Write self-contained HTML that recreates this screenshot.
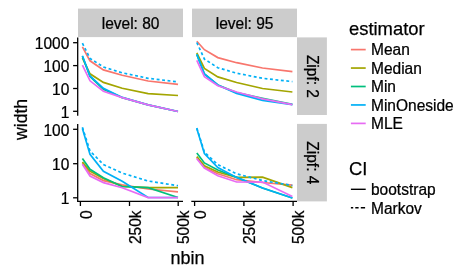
<!DOCTYPE html>
<html><head><meta charset="utf-8"><title>plot</title>
<style>
html,body{margin:0;padding:0;background:#fff;}
svg{display:block;}
text{font-family:"Liberation Sans",sans-serif;fill:#000;stroke:#000;stroke-width:0.25px;}
.t{font-size:15.6px;}
.T{font-size:18.4px;}
</style></head><body>
<svg width="471" height="277" viewBox="0 0 471 277">
<rect width="471" height="277" fill="#fff"/>
<rect x="78" y="8.6" width="105" height="28.5" fill="#CCCCCC"/>
<text class="t" transform="translate(130.60,29.10) scale(0.9936,1)" text-anchor="middle">level: 80</text>
<rect x="192" y="8.6" width="105" height="28.5" fill="#CCCCCC"/>
<text class="t" transform="translate(244.60,29.10) scale(0.9936,1)" text-anchor="middle">level: 95</text>
<rect x="297" y="37.4" width="29.9" height="77.6" fill="#CCCCCC"/>
<text class="t" transform="translate(306.60,76.40) rotate(90) scale(0.9936,1)" text-anchor="middle">Zipf: 2</text>
<rect x="297" y="123.9" width="29.9" height="77.5" fill="#CCCCCC"/>
<text class="t" transform="translate(306.60,162.85) rotate(90) scale(0.9936,1)" text-anchor="middle">Zipf: 4</text>
<polyline fill="none" stroke="#F8766D" stroke-width="1.7" points="82.4,46.8 90.0,60.8 103.4,69.9 122.2,75.3 148.1,81.0 178.0,84.4"/>
<polyline fill="none" stroke="#A3A500" stroke-width="1.7" points="82.4,57.9 90.0,73.8 103.4,82.4 122.2,88.3 148.1,93.6 178.0,95.5"/>
<polyline fill="none" stroke="#00BF7D" stroke-width="1.7" points="82.4,56.2 90.0,76.5 103.4,89.3 122.2,97.6 148.1,104.9 178.0,111.5"/>
<polyline fill="none" stroke="#00B0F6" stroke-width="1.7" points="82.4,55.8 90.0,76.0 103.4,88.3 122.2,97.4 148.1,104.9 178.0,111.5"/>
<polyline fill="none" stroke="#00B0F6" stroke-width="1.7" points="82.4,43.2 90.0,58.4 103.4,67.0 122.2,72.8 148.1,78.3 178.0,81.9" stroke-dasharray="2.9,2.58"/>
<polyline fill="none" stroke="#E76BF3" stroke-width="1.7" points="82.4,65.2 90.0,80.8 103.4,91.2 122.2,97.6 148.1,104.9 178.0,111.5"/>
<polyline fill="none" stroke="#F8766D" stroke-width="1.7" points="196.8,41.3 204.4,49.7 217.8,57.6 236.6,62.7 262.5,68.0 292.4,71.6"/>
<polyline fill="none" stroke="#A3A500" stroke-width="1.7" points="196.8,52.8 204.4,68.4 217.8,76.9 236.6,82.5 262.5,88.5 292.4,92.0"/>
<polyline fill="none" stroke="#00BF7D" stroke-width="1.7" points="196.8,54.4 204.4,74.0 217.8,85.0 236.6,92.6 262.5,98.3 292.4,104.4"/>
<polyline fill="none" stroke="#00B0F6" stroke-width="1.7" points="196.8,54.4 204.4,74.0 217.8,84.9 236.6,93.4 262.5,100.4 292.4,104.7"/>
<polyline fill="none" stroke="#00B0F6" stroke-width="1.7" points="196.8,42.5 204.4,59.1 217.8,67.7 236.6,73.2 262.5,78.3 292.4,81.6" stroke-dasharray="2.9,2.58"/>
<polyline fill="none" stroke="#E76BF3" stroke-width="1.7" points="196.8,60.4 204.4,76.7 217.8,85.8 236.6,92.0 262.5,98.9 292.4,104.7"/>
<polyline fill="none" stroke="#F8766D" stroke-width="1.7" points="82.4,163.3 90.0,173.5 103.4,180.6 122.2,184.9 148.1,189.0 178.0,191.9"/>
<polyline fill="none" stroke="#A3A500" stroke-width="1.7" points="82.4,162.0 90.0,171.2 103.4,178.5 122.2,186.3 148.1,187.7 178.0,187.7"/>
<polyline fill="none" stroke="#00BF7D" stroke-width="1.7" points="82.4,158.4 90.0,169.3 103.4,177.8 122.2,186.5 148.1,187.6 178.0,197.5"/>
<polyline fill="none" stroke="#00B0F6" stroke-width="1.7" points="82.4,128.5 90.0,154.4 103.4,171.3 122.2,181.3 148.1,197.5 178.0,197.5"/>
<polyline fill="none" stroke="#00B0F6" stroke-width="1.7" points="82.4,127.3 90.0,150.9 103.4,164.5 122.2,173.1 148.1,181.0 178.0,185.7" stroke-dasharray="2.9,2.58"/>
<polyline fill="none" stroke="#E76BF3" stroke-width="1.7" points="82.4,164.2 90.0,176.0 103.4,182.6 122.2,187.7 148.1,197.6 178.0,197.6"/>
<polyline fill="none" stroke="#F8766D" stroke-width="1.7" points="196.8,157.5 204.4,167.6 217.8,173.7 236.6,179.7 262.5,182.5 292.4,185.1"/>
<polyline fill="none" stroke="#A3A500" stroke-width="1.7" points="196.8,156.6 204.4,165.8 217.8,172.0 236.6,177.4 262.5,177.2 292.4,187.6"/>
<polyline fill="none" stroke="#00BF7D" stroke-width="1.7" points="196.8,153.0 204.4,162.9 217.8,170.0 236.6,177.2 262.5,188.0 292.4,198.0"/>
<polyline fill="none" stroke="#00B0F6" stroke-width="1.7" points="196.8,128.5 204.4,153.5 217.8,167.5 236.6,177.4 262.5,188.0 292.4,198.0"/>
<polyline fill="none" stroke="#00B0F6" stroke-width="1.7" points="196.8,128.0 204.4,152.0 217.8,164.6 236.6,173.8 262.5,180.6 292.4,185.5" stroke-dasharray="2.9,2.58"/>
<polyline fill="none" stroke="#E76BF3" stroke-width="1.7" points="196.8,158.6 204.4,168.0 217.8,175.8 236.6,182.0 262.5,182.1 292.4,196.5"/>
<line x1="77.7" x2="77.7" y1="37.4" y2="115.65" stroke="#000" stroke-width="1.3"/>
<line x1="73.1" x2="77.7" y1="42.7" y2="42.7" stroke="#000" stroke-width="1.3"/>
<text class="t" transform="translate(69.30,49.10) scale(0.9936,1)" text-anchor="end">1000</text>
<line x1="73.1" x2="77.7" y1="65.6" y2="65.6" stroke="#000" stroke-width="1.3"/>
<text class="t" transform="translate(69.30,72.00) scale(0.9936,1)" text-anchor="end">100</text>
<line x1="73.1" x2="77.7" y1="88.5" y2="88.5" stroke="#000" stroke-width="1.3"/>
<text class="t" transform="translate(69.30,94.90) scale(0.9936,1)" text-anchor="end">10</text>
<line x1="73.1" x2="77.7" y1="111.3" y2="111.3" stroke="#000" stroke-width="1.3"/>
<text class="t" transform="translate(69.30,117.70) scale(0.9936,1)" text-anchor="end">1</text>
<line x1="77.7" x2="77.7" y1="123.9" y2="202.05" stroke="#000" stroke-width="1.3"/>
<line x1="73.1" x2="77.7" y1="129.3" y2="129.3" stroke="#000" stroke-width="1.3"/>
<text class="t" transform="translate(69.30,135.70) scale(0.9936,1)" text-anchor="end">100</text>
<line x1="73.1" x2="77.7" y1="163.7" y2="163.7" stroke="#000" stroke-width="1.3"/>
<text class="t" transform="translate(69.30,170.10) scale(0.9936,1)" text-anchor="end">10</text>
<line x1="73.1" x2="77.7" y1="197.8" y2="197.8" stroke="#000" stroke-width="1.3"/>
<text class="t" transform="translate(69.30,204.20) scale(0.9936,1)" text-anchor="end">1</text>
<line x1="78" x2="183" y1="201.4" y2="201.4" stroke="#000" stroke-width="1.3"/>
<line x1="80.4" x2="80.4" y1="201.4" y2="206" stroke="#000" stroke-width="1.3"/>
<text class="t" transform="translate(91.60,210.40) rotate(-90) scale(0.9936,1)" text-anchor="end">0</text>
<line x1="129.5" x2="129.5" y1="201.4" y2="206" stroke="#000" stroke-width="1.3"/>
<text class="t" transform="translate(140.70,210.40) rotate(-90) scale(0.9936,1)" text-anchor="end">250k</text>
<line x1="178.2" x2="178.2" y1="201.4" y2="206" stroke="#000" stroke-width="1.3"/>
<text class="t" transform="translate(189.40,210.40) rotate(-90) scale(0.9936,1)" text-anchor="end">500k</text>
<line x1="191.3" x2="297" y1="201.4" y2="201.4" stroke="#000" stroke-width="1.3"/>
<line x1="194.6" x2="194.6" y1="201.4" y2="206" stroke="#000" stroke-width="1.3"/>
<text class="t" transform="translate(205.80,210.40) rotate(-90) scale(0.9936,1)" text-anchor="end">0</text>
<line x1="243.9" x2="243.9" y1="201.4" y2="206" stroke="#000" stroke-width="1.3"/>
<text class="t" transform="translate(255.10,210.40) rotate(-90) scale(0.9936,1)" text-anchor="end">250k</text>
<line x1="293.1" x2="293.1" y1="201.4" y2="206" stroke="#000" stroke-width="1.3"/>
<text class="t" transform="translate(304.30,210.40) rotate(-90) scale(0.9936,1)" text-anchor="end">500k</text>
<text class="T" style="font-size:17.6px" transform="translate(27.4,119.4) rotate(-90)" text-anchor="middle">width</text>
<text class="T" style="font-size:18px" x="187.5" y="264.1" text-anchor="middle">nbin</text>
<text class="T" x="349" y="35">estimator</text>
<line x1="350.9" x2="365.7" y1="49.60" y2="49.60" stroke="#F8766D" stroke-width="1.7"/>
<text class="t" transform="translate(371.00,55.40) scale(0.9936,1)" text-anchor="start">Mean</text>
<line x1="350.9" x2="365.7" y1="68.05" y2="68.05" stroke="#A3A500" stroke-width="1.7"/>
<text class="t" transform="translate(371.00,73.80) scale(0.9936,1)" text-anchor="start">Median</text>
<line x1="350.9" x2="365.7" y1="86.50" y2="86.50" stroke="#00BF7D" stroke-width="1.7"/>
<text class="t" transform="translate(371.00,92.20) scale(0.9936,1)" text-anchor="start">Min</text>
<line x1="350.9" x2="365.7" y1="104.95" y2="104.95" stroke="#00B0F6" stroke-width="1.7"/>
<text class="t" transform="translate(371.00,110.60) scale(0.9936,1)" text-anchor="start">MinOneside</text>
<line x1="350.9" x2="365.7" y1="123.40" y2="123.40" stroke="#E76BF3" stroke-width="1.7"/>
<text class="t" transform="translate(371.00,129.00) scale(0.9936,1)" text-anchor="start">MLE</text>
<text class="T" x="349" y="174.5">CI</text>
<line x1="350.9" x2="365.7" y1="189.30" y2="189.30" stroke="#000" stroke-width="1.4"/>
<text class="t" transform="translate(371.00,195.40) scale(0.9936,1)" text-anchor="start">bootstrap</text>
<line x1="350.9" x2="365.7" y1="207.80" y2="207.80" stroke="#000" stroke-width="1.4" stroke-dasharray="2.3,2.1,3.3,2.2,4.3"/>
<text class="t" transform="translate(371.00,213.80) scale(0.9936,1)" text-anchor="start">Markov</text>
</svg></body></html>
